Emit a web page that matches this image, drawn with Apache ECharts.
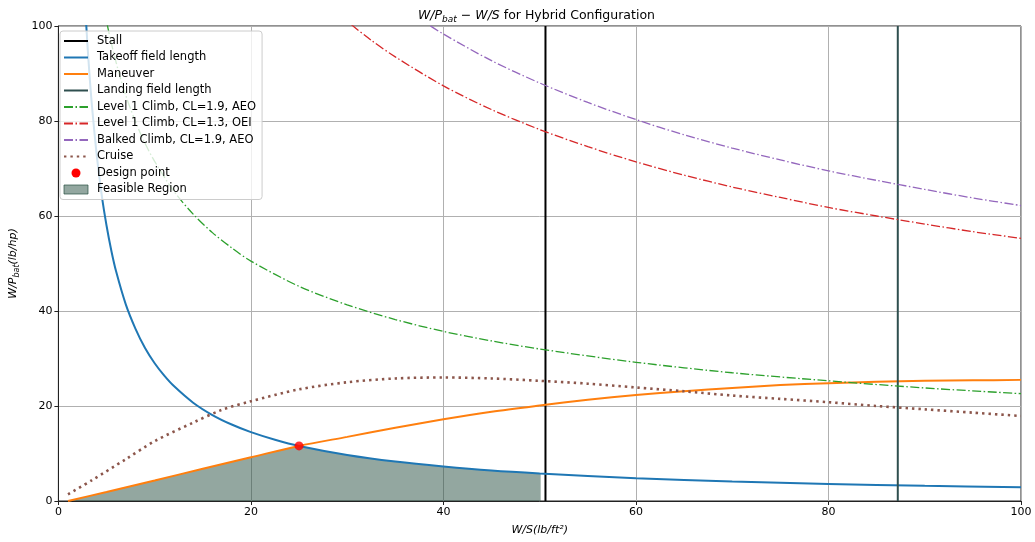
<!DOCTYPE html>
<html>
<head>
<meta charset="utf-8">
<script src="https://cdn.jsdelivr.net/npm/echarts@6/dist/echarts.min.js"></script>
<style>
  html, body { margin: 0; padding: 0; background: #fff; }
  #chart { width: 1035px; height: 542px; }
</style>
</head>
<body>
<div id="chart"></div>
<script>
// constraint lines (x = W/S, y = W/P_bat)
var stallX = 50.6;
var landingX = 87.2;

var takeoffX = [2.5, 2.9, 3.2, 3.5, 4, 4.5, 5, 5.5, 6, 7, 8, 9, 10, 11, 12, 14, 16, 18, 20, 22.5, 25, 30, 35, 40, 45, 50, 60, 70, 80, 90, 100];
var takeoffY = [116, 100, 90.6, 82.9, 72.5, 64.4, 58, 52.7, 48.3, 41.4, 36.3, 32.2, 29, 26.4, 24.2, 20.7, 18.1, 16.1, 14.5, 12.9, 11.6, 9.7, 8.3, 7.25, 6.4, 5.8, 4.8, 4.1, 3.6, 3.2, 2.9];

var maneuverX = [1, 5, 10, 15, 20, 25, 30, 35, 40, 45, 50, 55, 60, 65, 70, 75, 80, 85, 90, 95, 100];
var maneuverY = [0, 1.9, 4.3, 6.8, 9.2, 11.6, 13.5, 15.4, 17.2, 18.8, 20.1, 21.3, 22.3, 23.1, 23.8, 24.4, 24.8, 25.1, 25.3, 25.4, 25.5];

var climbAeoX = [4, 5, 6, 7, 8, 9, 10, 12, 14, 16, 18, 20, 25, 30, 35, 40, 45, 50, 60, 70, 80, 90, 100];
var climbAeoY = [113, 101, 92.3, 85.4, 79.9, 75.3, 71.5, 65.2, 60.4, 56.5, 53.3, 50.5, 45.2, 41.3, 38.2, 35.7, 33.7, 32.0, 29.2, 27.0, 25.3, 23.8, 22.6];

var climbOeiX = [28, 30, 32.5, 35, 40, 45, 50, 55, 60, 65, 70, 75, 80, 85, 90, 95, 100];
var climbOeiY = [104.5, 101, 97, 93.5, 87.4, 82.4, 78.2, 74.6, 71.4, 68.6, 66.1, 63.9, 61.8, 60.0, 58.3, 56.7, 55.3];

var balkedX = [36, 38, 40, 45, 50, 55, 60, 65, 70, 75, 80, 85, 90, 95, 100];
var balkedY = [103.7, 100.9, 98.3, 92.7, 88.0, 83.9, 80.3, 77.1, 74.3, 71.8, 69.5, 67.5, 65.6, 63.8, 62.2];

var cruiseX = [1, 3.5, 7, 10, 14, 17, 20, 25, 30, 35, 40, 45, 50, 55, 60, 65, 70, 75, 80, 85, 90, 95, 100];
var cruiseY = [1.4, 4.4, 8.8, 12.6, 16.5, 19.2, 21, 23.5, 25, 25.8, 26, 25.8, 25.3, 24.7, 23.9, 23.1, 22.2, 21.5, 20.8, 20, 19.3, 18.6, 17.9];

var designX = [25];
var designY = [11.6];

var feasX = [1, 5, 10, 15, 20, 25, 27.5, 30, 32.5, 35, 37.5, 40, 42.5, 45, 47.5, 50.1];
var feasY = [0, 1.9, 4.3, 6.8, 9.2, 11.6, 10.5, 9.7, 8.9, 8.3, 7.7, 7.25, 6.8, 6.4, 6.1, 5.8];

var xTicks = [0, 20, 40, 60, 80, 100];
var yTicks = [0, 20, 40, 60, 80, 100];

function pairs(xs, ys) {
    return xs.map(function (x, i) { return [x, ys[i]]; });
}

var font = 'DejaVu Sans';
var dashDot = [9, 2.5, 1.5, 2.5];
var feasColor = 'rgba(40,80,65,0.5)';

var myChart = echarts.init(document.getElementById('chart'));
var option = {
    animation: false,
    textStyle: { fontFamily: font },
    title: {
        left: 413,
        top: 3,
        text: '{i|W/P}{s|bat}{n| − }{i|W/S}{n| for Hybrid Configuration}',
        textStyle: {
            fontFamily: font,
            fontWeight: 'normal',
            fontSize: 12.5,
            color: '#000',
            rich: {
                i: { fontFamily: font, fontStyle: 'italic', fontSize: 12.5, color: '#000' },
                s: { fontFamily: font, fontStyle: 'italic', fontSize: 9, color: '#000', padding: [7, 0, 0, 0] },
                n: { fontFamily: font, fontSize: 12.5, color: '#000' }
            }
        }
    },
    legend: {
        orient: 'vertical',
        left: 60,
        top: 31,
        padding: [4, 6, 4, 3],
        itemWidth: 24,
        itemHeight: 9,
        itemGap: 4.5,
        backgroundColor: 'rgba(255,255,255,0.8)',
        borderColor: '#cccccc',
        borderWidth: 1,
        borderRadius: 3,
        itemStyle: { opacity: 0 },
        textStyle: { fontFamily: font, fontSize: 11.5, color: '#000', padding: [0, 0, 0, 4] },
        data: [
            { name: 'Stall' },
            { name: 'Takeoff field length' },
            { name: 'Maneuver' },
            { name: 'Landing field length' },
            { name: 'Level 1 Climb, CL=1.9, AEO' },
            { name: 'Level 1 Climb, CL=1.3, OEI' },
            { name: 'Balked Climb, CL=1.9, AEO' },
            { name: 'Cruise' },
            { name: 'Design point', icon: 'circle', itemStyle: { opacity: 1, color: '#ff0000' } },
            { name: 'Feasible Region', icon: 'rect', itemStyle: { opacity: 1, color: feasColor, borderColor: 'rgba(40,80,65,0.7)', borderWidth: 1 } }
        ]
    },
    grid: {
        left: 55,
        right: 14,
        top: 26,
        bottom: 41,
        show: true,
        borderColor: '#222',
        borderWidth: 1
    },
    xAxis: {
        type: 'value',
        min: xTicks[0],
        max: xTicks[xTicks.length - 1],
        interval: 20,
        name: '{i|W/S(lb/ft²)}',
        nameLocation: 'middle',
        nameGap: 24,
        nameTextStyle: {
            rich: { i: { fontFamily: font, fontStyle: 'italic', fontSize: 11, color: '#000' } }
        },
        axisLine: { lineStyle: { color: '#222', width: 1 } },
        axisTick: { show: true, length: 4, lineStyle: { color: '#222' } },
        axisLabel: { fontSize: 11, color: '#000', margin: 6 },
        splitLine: { show: true, lineStyle: { color: '#b0b0b0', width: 1 } }
    },
    yAxis: {
        type: 'value',
        min: yTicks[0],
        max: yTicks[yTicks.length - 1],
        interval: 20,
        name: '{i|W/P}{s|bat}{i|(lb/hp)}',
        nameLocation: 'middle',
        nameGap: 31,
        nameRotate: 90,
        nameTextStyle: {
            rich: {
                i: { fontFamily: font, fontStyle: 'italic', fontSize: 11, color: '#000' },
                s: { fontFamily: font, fontStyle: 'italic', fontSize: 8, color: '#000', padding: [6, 0, 0, 0] }
            }
        },
        axisLine: { show: true, lineStyle: { color: '#222', width: 1 } },
        axisTick: { show: true, length: 4, lineStyle: { color: '#222' } },
        axisLabel: { fontSize: 11, color: '#000', margin: 6 },
        splitLine: { show: true, lineStyle: { color: '#b0b0b0', width: 1 } }
    },
    series: [
        {
            name: 'Feasible Region',
            type: 'line',
            z: 1,
            symbol: 'none',
            lineStyle: { width: 0 },
            itemStyle: { color: feasColor },
            areaStyle: { color: feasColor, opacity: 1, origin: 'start' },
            data: pairs(feasX, feasY)
        },
        {
            name: 'Stall',
            type: 'line',
            symbol: 'none',
            z: 3,
            lineStyle: { color: '#000', width: 2 },
            itemStyle: { color: '#000' },
            data: pairs([stallX, stallX], [yTicks[0], yTicks[yTicks.length - 1]])
        },
        {
            name: 'Takeoff field length',
            type: 'line',
            symbol: 'none',
            smooth: 0.3,
            z: 3,
            lineStyle: { color: '#1f77b4', width: 2 },
            itemStyle: { color: '#1f77b4' },
            data: pairs(takeoffX, takeoffY)
        },
        {
            name: 'Maneuver',
            type: 'line',
            symbol: 'none',
            smooth: 0.3,
            z: 3,
            lineStyle: { color: '#ff7f0e', width: 2 },
            itemStyle: { color: '#ff7f0e' },
            data: pairs(maneuverX, maneuverY)
        },
        {
            name: 'Landing field length',
            type: 'line',
            symbol: 'none',
            z: 3,
            lineStyle: { color: '#2f4f4f', width: 2 },
            itemStyle: { color: '#2f4f4f' },
            data: pairs([landingX, landingX], [yTicks[0], yTicks[yTicks.length - 1]])
        },
        {
            name: 'Level 1 Climb, CL=1.9, AEO',
            type: 'line',
            symbol: 'none',
            smooth: 0.3,
            z: 3,
            lineStyle: { color: '#2ca02c', width: 1.3, type: dashDot },
            itemStyle: { color: '#2ca02c' },
            data: pairs(climbAeoX, climbAeoY)
        },
        {
            name: 'Level 1 Climb, CL=1.3, OEI',
            type: 'line',
            symbol: 'none',
            smooth: 0.3,
            z: 3,
            lineStyle: { color: '#d62728', width: 1.3, type: dashDot },
            itemStyle: { color: '#d62728' },
            data: pairs(climbOeiX, climbOeiY)
        },
        {
            name: 'Balked Climb, CL=1.9, AEO',
            type: 'line',
            symbol: 'none',
            smooth: 0.3,
            z: 3,
            lineStyle: { color: '#9467bd', width: 1.3, type: dashDot },
            itemStyle: { color: '#9467bd' },
            data: pairs(balkedX, balkedY)
        },
        {
            name: 'Cruise',
            type: 'line',
            symbol: 'none',
            smooth: 0.3,
            z: 3,
            lineStyle: { color: '#8c564b', width: 2.6, type: [2.4, 4] },
            itemStyle: { color: '#8c564b' },
            data: pairs(cruiseX, cruiseY)
        },
        {
            name: 'Design point',
            type: 'scatter',
            symbolSize: 9,
            z: 5,
            itemStyle: { color: '#ff0000' },
            data: pairs(designX, designY)
        }
    ]
};
myChart.setOption(option);
</script>
</body>
</html>
